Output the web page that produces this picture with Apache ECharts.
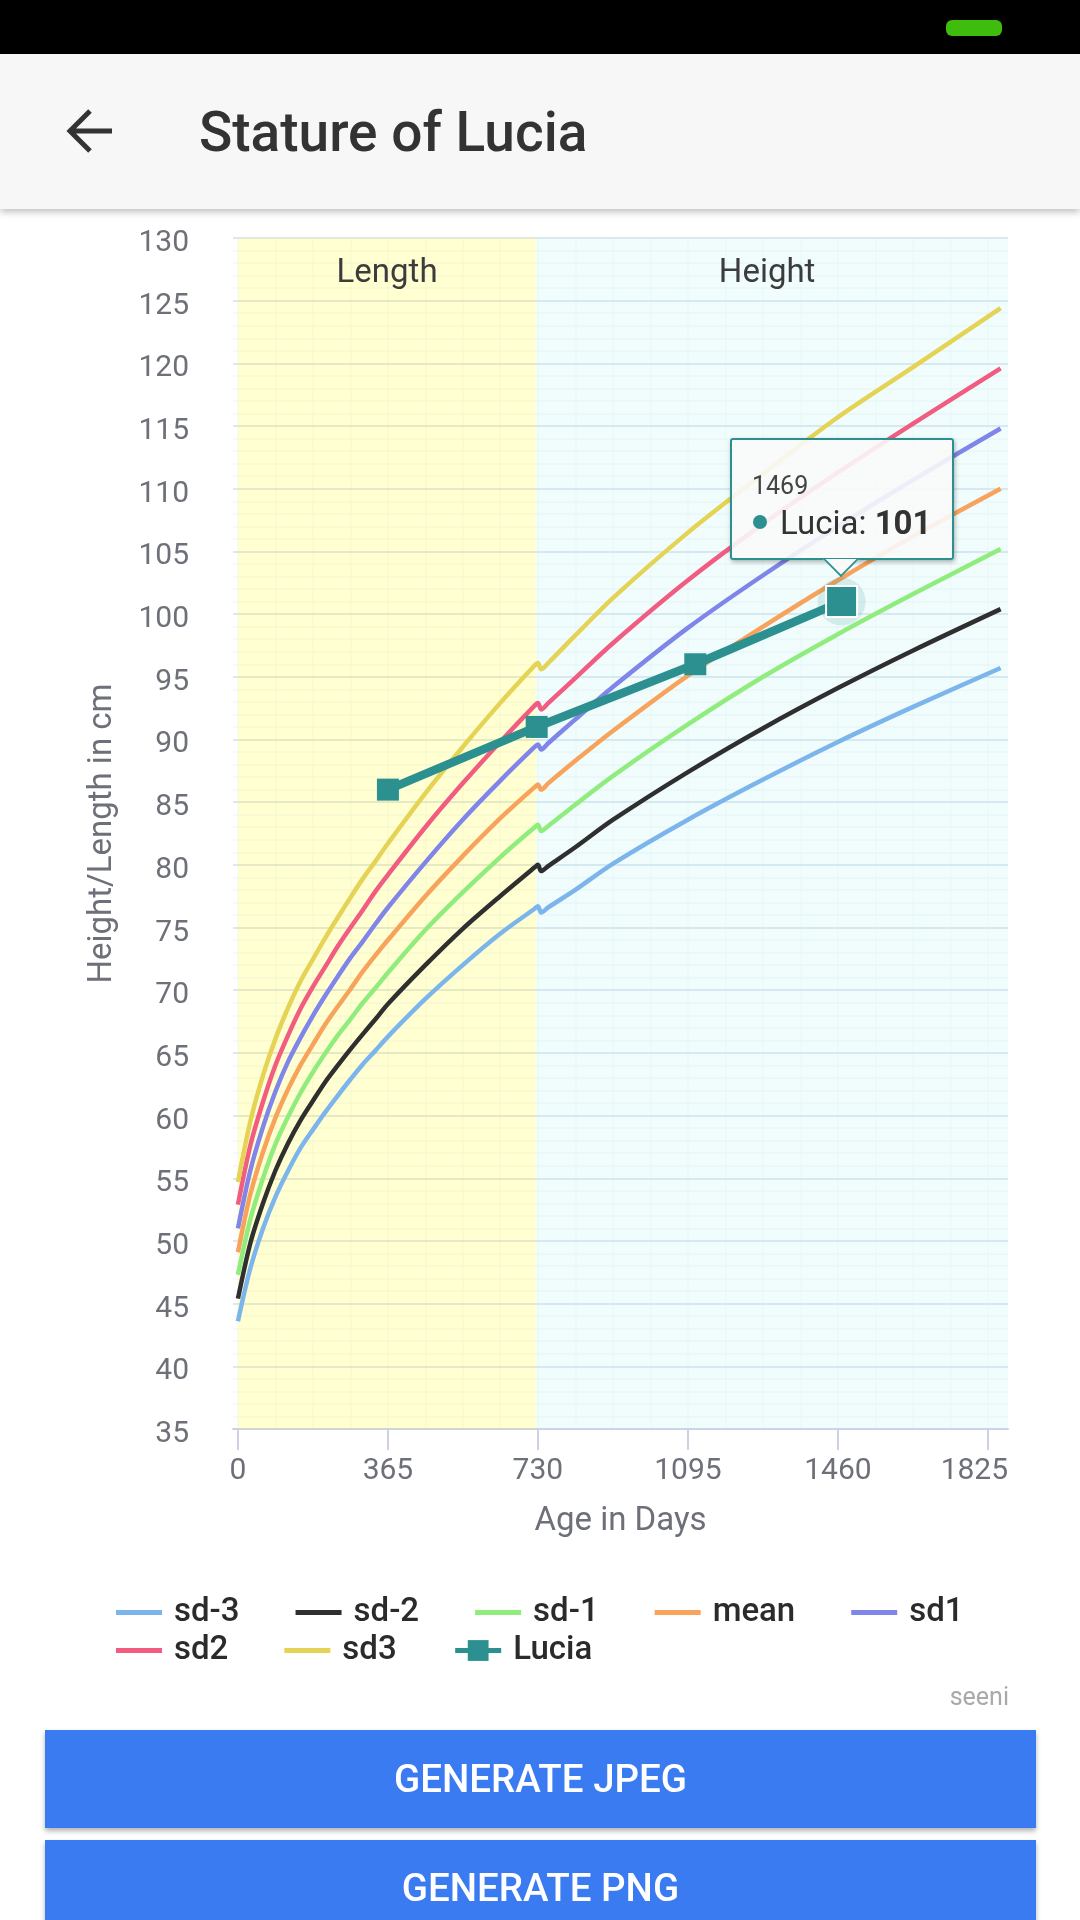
<!DOCTYPE html>
<html>
<head>
<meta charset="utf-8">
<title>Stature of Lucia</title>
<script src="https://cdn.jsdelivr.net/npm/echarts@6/dist/echarts.min.js"></script>
<style>
    html, body { margin: 0; padding: 0; background: #fff; width: 1080px; height: 1920px; overflow: hidden; font-family: Roboto, sans-serif; }
    #chart { position: absolute; left: 0; top: 0; width: 1080px; height: 1920px; }
    .statusbar { position: absolute; left: 0; top: 0; width: 1080px; height: 54px; background: #000; }
    .battery { position: absolute; left: 946px; top: 20px; width: 56px; height: 16px; border-radius: 6px; background: #3fbd0c; }
    .appbar { position: absolute; left: 0; top: 54px; width: 1080px; height: 155px; background: #f7f7f7; box-shadow: 0 3px 7px rgba(0,0,0,.25); }
    .appbar svg { position: absolute; left: 64px; top: 52px; }
    .appbar .title { position: absolute; left: 199px; top: 46px; font-size: 55px; line-height: 64px; font-weight: 500; color: #333; white-space: nowrap; }
    .seeni { position: absolute; right: 71px; top: 1683px; font-size: 25px; line-height: 28px; color: #a9a9a9; }
    .btn { position: absolute; left: 45px; width: 991px; background: #3b7bf2; color: #fff; text-align: center; font-size: 38.5px; font-weight: 500; box-shadow: 0 3px 5px rgba(0,0,0,.3); }
</style>
</head>
<body>
<div id="chart"></div>
<div class="statusbar"><div class="battery"></div></div>
<div class="appbar">
    <svg width="54" height="50" viewBox="0 0 54 50"><path d="M48 25H6M26 5L6 25l20 20" fill="none" stroke="#333" stroke-width="5"/></svg>
    <div class="title">Stature of Lucia</div>
</div>
<div class="seeni">seeni</div>
<div class="btn" style="top:1730px;height:98px;line-height:98px">GENERATE JPEG</div>
<div class="btn" style="top:1840px;height:80px;line-height:96px">GENERATE PNG</div>
<script>
// WHO style reference curves. Days 722-755 hold the small notch at two years.
const days = [0, 30, 61, 91, 122, 152, 183, 213, 243, 274, 304, 335, 365, 456, 547, 638, 722, 730, 738, 755, 821, 913, 1095, 1278, 1460, 1643, 1856];
const sdM3 = [43.6, 47.8, 51.0, 53.5, 55.6, 57.4, 58.9, 60.3, 61.6, 62.9, 64.1, 65.2, 66.3, 69.3, 72.0, 74.5, 76.5, 76.7, 76.2, 76.6, 78.0, 80.1, 83.6, 86.8, 89.8, 92.6, 95.7];
const sdM2 = [45.4, 49.8, 53.0, 55.6, 57.8, 59.6, 61.2, 62.7, 64.0, 65.3, 66.5, 67.7, 68.9, 72.0, 74.9, 77.5, 79.8, 80.0, 79.5, 79.9, 81.4, 83.6, 87.4, 90.9, 94.1, 97.1, 100.4];
const sdM1 = [47.3, 51.7, 55.0, 57.7, 59.9, 61.8, 63.5, 65.0, 66.4, 67.7, 69.0, 70.2, 71.4, 74.8, 77.8, 80.6, 83.0, 83.2, 82.7, 83.1, 84.8, 87.1, 91.2, 95.0, 98.4, 101.6, 105.2];
const mean = [49.1, 53.7, 57.1, 59.8, 62.1, 64.0, 65.7, 67.3, 68.7, 70.1, 71.5, 72.8, 74.0, 77.5, 80.7, 83.7, 86.2, 86.4, 86.0, 86.5, 88.3, 90.7, 95.1, 99.0, 102.7, 106.2, 110.0];
const sdP1 = [51.0, 55.6, 59.1, 61.9, 64.3, 66.2, 68.0, 69.6, 71.1, 72.6, 73.9, 75.3, 76.6, 80.2, 83.6, 86.7, 89.4, 89.6, 89.2, 89.7, 91.6, 94.2, 98.9, 103.1, 107.0, 110.7, 114.8];
const sdP2 = [52.9, 57.6, 61.1, 64.0, 66.4, 68.5, 70.3, 71.9, 73.5, 75.0, 76.4, 77.9, 79.2, 83.0, 86.5, 89.8, 92.7, 92.9, 92.4, 92.9, 94.9, 97.7, 102.7, 107.2, 111.3, 115.2, 119.6];
const sdP3 = [54.7, 59.5, 63.2, 66.1, 68.6, 70.7, 72.5, 74.2, 75.8, 77.4, 78.9, 80.3, 81.7, 85.7, 89.4, 92.9, 95.9, 96.1, 95.6, 96.1, 98.3, 101.3, 106.5, 111.2, 115.7, 119.7, 124.4];

const luciaDays = [365, 727, 1113, 1469];
const luciaValues = [86, 91, 96, 101];

const curveNames = ['sd-3', 'sd-2', 'sd-1', 'mean', 'sd1', 'sd2', 'sd3'];
const curveValues = [sdM3, sdM2, sdM1, mean, sdP1, sdP2, sdP3];
const curveColors = ['#7cb5ec', '#2f2f2f', '#90ed7d', '#f7a35c', '#8085e9', '#f15c80', '#e4d354'];
const LUCIA_COLOR = '#2b908f';

const legendRow1 = ['sd-3', 'sd-2', 'sd-1', 'mean', 'sd1'];
const legendRow2 = ['sd2', 'sd3', 'Lucia'];

const xTicks = [0, 365, 730, 1095, 1460, 1825];
const xFaintLines = [91, 183, 274, 456, 547, 638, 821, 913, 1004, 1186, 1278, 1369, 1551, 1643, 1734];
const X_MIN = -12, X_MAX = 1874;
const LENGTH_END = 726;

const GRAY = '#6e7079';
const FONT = 'Roboto';
const GRID = { left: 233, right: 72, top: 238, bottom: 491 };
// a flat bar inside a 46x26 box, the tiny end triangles only hold the box open
const BAR_ICON = 'path://M0 0L0.01 0L0 0ZM0 10.5L46 10.5L46 15.5L0 15.5ZM0 26L0.01 26L0 26Z';

const chart = echarts.init(document.getElementById('chart'));

const curveSeries = curveNames.map((name, i) => ({
    name,
    type: 'line',
    symbol: 'none',
    smooth: 0.3,
    silent: true,
    z: 3,
    lineStyle: { color: curveColors[i], width: 4.5 },
    itemStyle: { color: curveColors[i] },
    data: days.map((d, j) => [d, curveValues[i][j]])
}));

// the two shaded zones hang off the first curve
curveSeries[0].markArea = {
    silent: true,
    label: { position: 'insideTop', distance: 19, color: '#3c3c3c', fontFamily: FONT, fontSize: 33 },
    data: [
        [{ name: 'Length', xAxis: 0, itemStyle: { color: 'rgba(255,255,0,0.18)' } }, { xAxis: LENGTH_END }],
        [{ name: 'Height', xAxis: LENGTH_END, label: { padding: [0, 10, 0, 0] }, itemStyle: { color: 'rgba(178,247,239,0.2)' } }, { xAxis: X_MAX }]
    ]
};

const last = luciaDays.length - 1;

function legendRow(names, top) {
    return {
        left: 116,
        top,
        padding: 0,
        itemWidth: 46,
        itemHeight: 26,
        itemGap: 56,
        lineStyle: { width: 5 },
        textStyle: { fontFamily: FONT, fontSize: 33, fontWeight: 500, color: '#2b2b2b', padding: [0, 0, 0, 7] },
        data: names.map(name => name === 'Lucia' ? { name } : { name, icon: BAR_ICON })
    };
}

chart.setOption({
    animation: false,
    grid: GRID,
    tooltip: {
        trigger: 'item',
        alwaysShowContent: true,
        padding: 0,
        backgroundColor: 'rgba(249,249,249,0.9)',
        borderColor: LUCIA_COLOR,
        borderWidth: 2,
        borderRadius: 3,
        textStyle: { fontFamily: FONT, color: '#333' },
        extraCssText: 'width:220px;height:118px;box-shadow:1px 2px 4px rgba(0,0,0,.3);',
        position: (pt, params, dom, rect, size) => [pt[0] - size.contentSize[0] / 2, pt[1] - size.contentSize[1] - 42],
        formatter: p => `<div style="position:relative;width:220px;height:118px">
            <div style="position:absolute;left:20px;top:30px;font-size:25px;line-height:32px;color:#444">${p.value[0]}</div>
            <div style="position:absolute;left:21px;top:75px;width:14px;height:14px;border-radius:7px;background:${LUCIA_COLOR}"></div>
            <div style="position:absolute;left:48px;top:65px;font-size:33px;line-height:36px;color:#333;white-space:nowrap">${p.seriesName}: <b>${p.value[1]}</b></div>
            <div style="position:absolute;left:96px;top:106px;width:26px;height:26px;box-sizing:border-box;transform:rotate(45deg);background:#f9f9f9;border-right:2px solid ${LUCIA_COLOR};border-bottom:2px solid ${LUCIA_COLOR};clip-path:polygon(100% 0,100% 100%,0 100%)"></div>
        </div>`
    },
    legend: [legendRow(legendRow1, 1596), legendRow(legendRow2, 1634)],
    xAxis: [{
        type: 'value',
        min: X_MIN,
        max: X_MAX,
        name: 'Age in Days',
        nameLocation: 'middle',
        nameGap: 76,
        nameTextStyle: { fontFamily: FONT, fontSize: 33, color: GRAY },
        axisLine: { onZero: false, lineStyle: { color: '#ccd2e4', width: 2 } },
        axisTick: { length: 21, customValues: xTicks, lineStyle: { color: '#ccd2e4', width: 2 } },
        axisLabel: {
            customValues: xTicks,
            margin: 27,
            fontFamily: FONT,
            fontSize: 30,
            color: GRAY,
            // the last label sits pulled in from its tick
            formatter: v => v === xTicks[xTicks.length - 1] ? `{end|${v}}` : `${v}`,
            rich: { end: { fontFamily: FONT, fontSize: 30, color: GRAY, padding: [0, 27, 0, 0] } }
        },
        splitLine: { show: false }
    }, {
        type: 'value',
        min: X_MIN,
        max: X_MAX,
        position: 'top',
        axisLine: { show: false },
        axisTick: { show: false, customValues: xTicks.concat(xFaintLines) },
        axisLabel: { show: false },
        splitLine: { show: true, lineStyle: { color: 'rgba(224,230,241,0.2)', width: 1.5 } }
    }],
    yAxis: {
        type: 'value',
        min: 35,
        max: 130,
        interval: 5,
        name: 'Height/Length in cm',
        nameLocation: 'middle',
        nameGap: 114,
        nameTextStyle: { fontFamily: FONT, fontSize: 33, color: GRAY },
        axisLine: { show: false },
        axisTick: { show: false },
        axisLabel: {
            margin: 44,
            // labels sit a little below their grid lines
            formatter: v => `{low|${v}}`,
            rich: { low: { fontFamily: FONT, fontSize: 30, color: GRAY, padding: [11, 0, 0, 0] } }
        },
        splitLine: { lineStyle: { color: '#e0e6f1', width: 2 } },
        minorTick: { splitNumber: 5 },
        minorSplitLine: { show: true, lineStyle: { color: 'rgba(224,230,241,0.3)', width: 1.5 } }
    },
    series: curveSeries.concat({
        name: 'Lucia',
        type: 'line',
        symbol: 'rect',
        symbolSize: 22,
        showAllSymbol: true,
        z: 6,
        lineStyle: { color: LUCIA_COLOR, width: 8.5 },
        itemStyle: { color: LUCIA_COLOR },
        emphasis: { disabled: true },
        markPoint: {
            silent: true,
            z: 4,
            symbol: 'circle',
            symbolSize: 48,
            label: { show: false },
            itemStyle: { color: 'rgba(43,144,143,0.15)' },
            data: [{ coord: [luciaDays[last], luciaValues[last]] }]
        },
        data: luciaDays.map((d, i) => i === last
            ? { value: [d, luciaValues[i]], symbolSize: 31, itemStyle: { borderColor: '#fff', borderWidth: 2 } }
            : [d, luciaValues[i]])
    })
});

chart.dispatchAction({ type: 'showTip', seriesIndex: curveSeries.length, dataIndex: last });
</script>
</body>
</html>
